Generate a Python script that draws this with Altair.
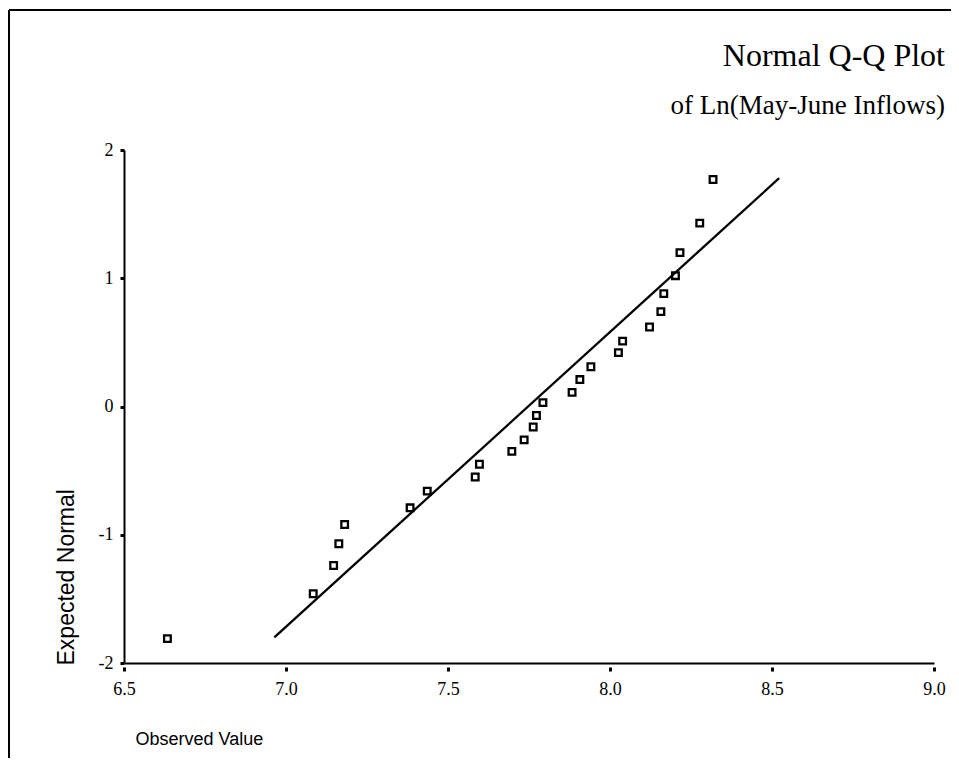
import altair as alt
import pandas as pd

# Observed values (ln of May-June inflows) and their expected normal scores
observed = [6.634, 7.084, 7.147, 7.163, 7.181, 7.383, 7.436, 7.584, 7.597, 7.697,
            7.735, 7.763, 7.773, 7.793, 7.883, 7.907, 7.941, 8.026, 8.039, 8.122,
            8.157, 8.166, 8.202, 8.216, 8.277, 8.318]
expected = [-1.81, -1.46, -1.24, -1.07, -0.92, -0.79, -0.66, -0.55, -0.45, -0.35,
            -0.26, -0.16, -0.07, 0.03, 0.11, 0.21, 0.31, 0.42, 0.51, 0.62,
            0.74, 0.88, 1.02, 1.20, 1.43, 1.77]
# Reference line end points
line_x = [6.964, 8.522]
line_y = [-1.80, 1.78]
x_ticks = [6.5, 7.0, 7.5, 8.0, 8.5, 9.0]
y_ticks = [-2, -1, 0, 1, 2]
title_text = ["Normal Q-Q Plot"]
subtitle_text = ["of Ln(May-June Inflows)"]

pts = pd.DataFrame({"obs": observed, "exp": expected})
ref = pd.DataFrame({"obs": line_x, "exp": line_y})

W, H = 810, 513

xscale = alt.Scale(domain=[6.5, 9.0], nice=False, zero=False)
yscale = alt.Scale(domain=[-2, 2], nice=False, zero=False)

xaxis = alt.Axis(
    values=x_ticks, format=".1f", grid=False,
    domainColor="black", domainWidth=2,
    tickColor="black", tickWidth=3, tickSize=8, tickDash=[0, 4, 4],
    labelFont="Liberation Serif", labelFontSize=18, labelColor="black",
    labelPadding=9, labelFlush=False,
    title="Observed Value", titleFont="Liberation Sans", titleFontSize=18,
    titleFontWeight="normal", titleColor="black",
    titleAnchor="start", titleAlign="left", titleBaseline="alphabetic",
    titleX=11, titleY=81,
)
yaxis = alt.Axis(
    values=y_ticks, grid=False,
    labelExpr="datum.value < 0 ? '-' + abs(datum.value) : '' + datum.value",
    domainColor="black", domainWidth=2,
    tickColor="black", tickWidth=3, tickSize=4,
    labelFont="Liberation Serif", labelFontSize=18, labelColor="black",
    labelPadding=7, labelFlush=False,
    title="Expected Normal", titleFont="Liberation Sans", titleFontSize=23,
    titleFontWeight="normal", titleColor="black",
    titleAnchor="start", titleAlign="left", titleAngle=-90,
    titleBaseline="middle", titleX=-58, titleY=H + 2,
)

points = alt.Chart(pts).mark_point(
    shape="square", filled=False, color="black", strokeWidth=2.3, size=44, opacity=1
).encode(
    x=alt.X("obs:Q", scale=xscale, axis=xaxis),
    y=alt.Y("exp:Q", scale=yscale, axis=yaxis),
)

line = alt.Chart(ref).mark_line(color="black", strokeWidth=2.3).encode(
    x=alt.X("obs:Q", scale=xscale),
    y=alt.Y("exp:Q", scale=yscale),
)

one = pd.DataFrame({"a": [0]})
frame_top = alt.Chart(one).mark_rule(color="black", strokeWidth=2).encode(
    x=alt.value(-115), x2=alt.value(840), y=alt.value(-140)
)
frame_left = alt.Chart(one).mark_rule(color="black", strokeWidth=2).encode(
    x=alt.value(-115), y=alt.value(-140), y2=alt.value(620)
)

title = alt.Chart(pd.DataFrame({"t": title_text})).mark_text(
    font="Liberation Serif", fontSize=32, color="black", align="right", baseline="alphabetic"
).encode(text="t:N", x=alt.value(821), y=alt.value(-84))

subtitle = alt.Chart(pd.DataFrame({"t": subtitle_text})).mark_text(
    font="Liberation Serif", fontSize=27, color="black", align="right", baseline="alphabetic"
).encode(text="t:N", x=alt.value(821), y=alt.value(-36))

chart = alt.layer(frame_top, frame_left, line, points, title, subtitle).properties(
    width=W, height=H,
    background="white",
    autosize=alt.AutoSizeParams(type="none"),
    padding={"left": 116, "top": 142, "right": 17, "bottom": 95},
).configure_view(stroke=None)

chart.save("out.html", embed_options={"renderer": "svg", "actions": False})
